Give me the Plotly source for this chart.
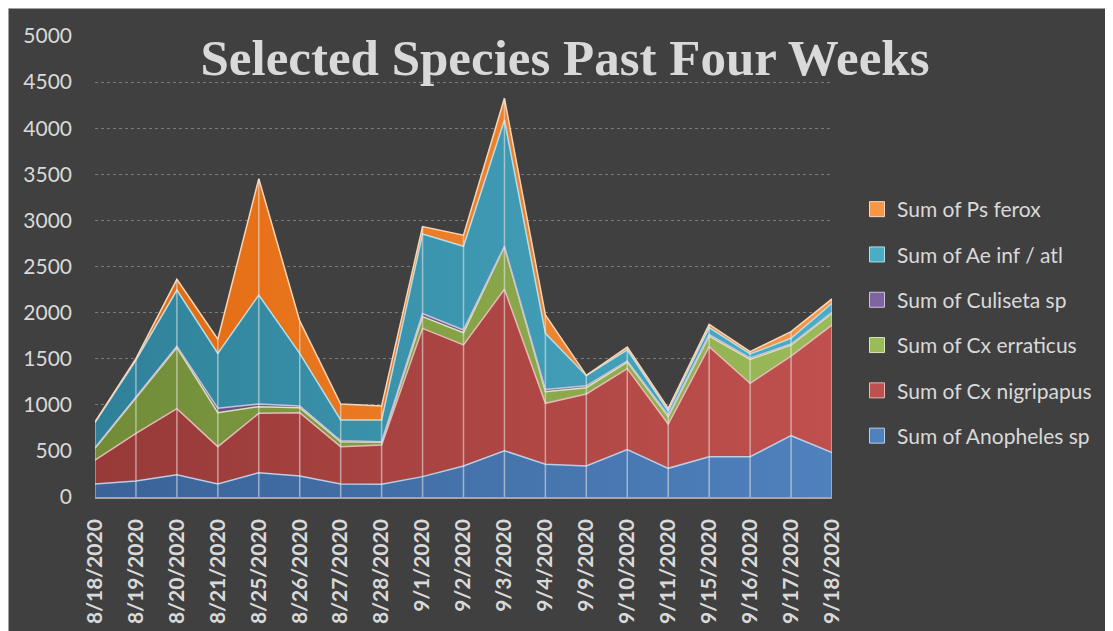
import plotly.graph_objects as go
import numpy as np

dates = ["8/18/2020", "8/19/2020", "8/20/2020", "8/21/2020", "8/25/2020", "8/26/2020",
         "8/27/2020", "8/28/2020", "9/1/2020", "9/2/2020", "9/3/2020", "9/4/2020",
         "9/9/2020", "9/10/2020", "9/11/2020", "9/15/2020", "9/16/2020", "9/17/2020",
         "9/18/2020"]

anopheles = [141, 174, 242, 141, 264, 228, 141, 138, 221, 336, 502, 355, 336, 515, 311, 437, 437, 665, 481]
cx_nigripapus = [260, 517, 716, 405, 643, 687, 405, 426, 1608, 1313, 1751, 661, 781, 877, 481, 1193, 796, 864, 1385]
cx_erraticus = [127, 379, 662, 369, 73, 54, 54, 29, 127, 133, 462, 126, 69, 72, 79, 116, 260, 120, 126]
culiseta = [8, 10, 15, 47, 29, 17, 10, 7, 35, 30, 5, 25, 20, 12, 15, 15, 15, 10, 10]
ae_inf_atl = [270, 406, 610, 596, 1182, 572, 225, 235, 862, 907, 1369, 608, 110, 120, 47, 76, 43, 62, 99]
ps_ferox = [9, 14, 116, 153, 1260, 352, 174, 152, 80, 120, 235, 199, 4, 29, 29, 36, 25, 72, 47]

series_names = ["Sum of Anopheles sp", "Sum of Cx nigripapus", "Sum of Cx erraticus",
                "Sum of Culiseta sp", "Sum of Ae inf / atl", "Sum of Ps ferox"]
series_values = [anopheles, cx_nigripapus, cx_erraticus, culiseta, ae_inf_atl, ps_ferox]

dark = ["#3a6398", "#973a38", "#718b37", "#634d80", "#2f8199", "#e2670c"]
light = ["#4f81bd", "#c0504d", "#9bbb59", "#8064a2", "#4bacc6", "#f79646"]
edge = ["#b9cde5", "#e6b9b8", "#d7e4bd", "#ccc1da", "#b7dee8", "#fcd5b5"]

x = list(range(len(dates)))
fig = go.Figure()

for name, vals, d, l, e in zip(series_names, series_values, dark, light, edge):
    fig.add_trace(go.Scatter(
        x=x, y=vals, name=name, stackgroup="one", mode="lines",
        line=dict(color=e, width=1.5),
        fillcolor=l,
        fillgradient=dict(type="horizontal", colorscale=[[0, d], [1, l]]),
        showlegend=False, hoverinfo="skip",
    ))

# drop lines from axis to top of stack
totals = np.sum(np.array(series_values), axis=0)
dx, dy = [], []
for i, t in enumerate(totals):
    dx += [i, i, None]
    dy += [0, float(t), None]
fig.add_trace(go.Scatter(x=dx, y=dy, mode="lines",
                         line=dict(color="rgba(235,235,235,0.55)", width=1.5),
                         showlegend=False, hoverinfo="skip"))

# legend entries (square swatches)
for idx in reversed(range(len(series_names))):
    fig.add_trace(go.Scatter(
        x=[None], y=[None], mode="markers", name=series_names[idx],
        marker=dict(symbol="square", size=15, color=light[idx],
                    line=dict(color=edge[idx], width=1)),
        legendgroup=series_names[idx], showlegend=True,
    ))

# figure-pixel geometry (page body adds an 8px offset in the screenshot)
W, H = 1113, 631
L, R, T, B = 87, 824, 28, 489
pw, ph = R - L, B - T

def px_to_paper_x(px):
    return (px - L) / pw

def px_to_paper_y(py):
    return (B - py) / ph

fig.update_layout(
    width=W, height=H,
    margin=dict(l=L, r=W - R, t=T, b=H - B, pad=0),
    paper_bgcolor="#404040",
    plot_bgcolor="rgba(0,0,0,0)",
    shapes=[dict(type="rect", xref="paper", yref="paper", layer="below",
                 x0=px_to_paper_x(0), x1=px_to_paper_x(W + 20),
                 y0=px_to_paper_y(H + 20), y1=px_to_paper_y(0),
                 fillcolor="rgba(0,0,0,0)", line=dict(color="#bfbfbf", width=1.5))],
    title=dict(text="<b>Selected Species Past Four Weeks</b>",
               font=dict(family="Liberation Serif", size=51, color="#d9d9d9"),
               x=557 / W, xref="container", xanchor="center",
               y=1 - 49 / H, yref="container", yanchor="middle"),
    xaxis=dict(range=[0, len(dates) - 1], tickmode="array", tickvals=x, ticktext=dates,
               tickangle=-90, showgrid=False, zeroline=False,
               showline=True, linecolor="#a6a6a6", linewidth=1.5,
               tickfont=dict(family="Lato", size=21, color="#d9d9d9", weight="bold"),
               ticks="", ticklabelstandoff=12),
    yaxis=dict(range=[0, 5000], tickmode="linear", tick0=0, dtick=500,
               showgrid=True, gridcolor="#7a7a7a", griddash="dot", gridwidth=1,
               zeroline=False, showline=False, ticks="",
               tickfont=dict(family="Lato", size=21, color="#d9d9d9"),
               ticklabelstandoff=22),
    legend=dict(x=px_to_paper_x(849), xanchor="left",
                y=px_to_paper_y(181), yanchor="top",
                bgcolor="rgba(0,0,0,0)",
                font=dict(family="Lato", size=21, color="#d9d9d9"),
                traceorder="grouped", tracegroupgap=15),
    showlegend=True,
)

fig.write_html("out.html")
